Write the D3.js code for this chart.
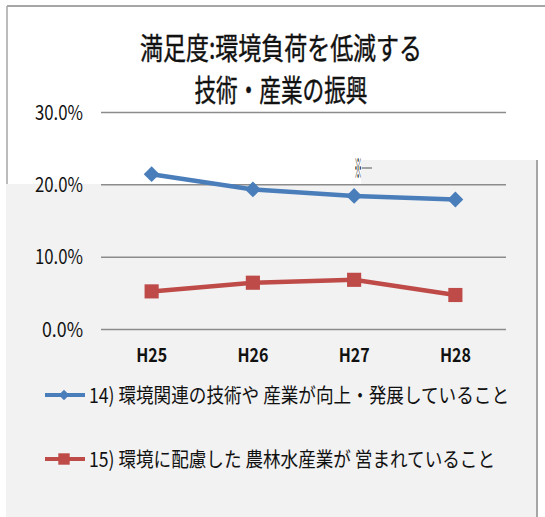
<!DOCTYPE html>
<html>
<head>
<meta charset="utf-8">
<script src="https://cdn.jsdelivr.net/npm/d3@7"></script>
<style>
body { margin: 0; background: #fff; }
svg { display: block; }
</style>
</head>
<body>
<div id="chart"></div>
<script>
var width = 545,
height = 517;

// data
var years = ["H25", "H26", "H27", "H28"];
var tech = [0.214, 0.193, 0.184, 0.179];
var farm = [0.052, 0.064, 0.068, 0.047];
var yTicks = [0, 0.1, 0.2, 0.3];
var titleLines = ["満足度:環境負荷を低減する", "技術・産業の振興"];
var seriesNames = ["14) 環境関連の技術や 産業が向上・発展していること", "15) 環境に配慮した 農林水産業が 営まれていること"];

var blue = "#4a7ebb",
red = "#be4b48",
jp = "'Noto Sans CJK JP', 'Noto Sans', sans-serif";

var svg = d3.select("#chart").append("svg")
.attr("width", width)
.attr("height", height);

// frame and grey panel
svg.append("line")
.attr("x1", 7).attr("x2", width).attr("y1", 6).attr("y2", 6)
.attr("stroke", "#a6a6a6").attr("stroke-width", 2);
svg.append("line")
.attr("x1", 7).attr("x2", 7).attr("y1", 6).attr("y2", 184)
.attr("stroke", "#a6a6a6").attr("stroke-width", 1.5);

svg.append("path")
.attr("d", "M6,184H361V160H537V517H6Z")
.attr("fill", "#f2f2f2");
svg.append("line")
.attr("x1", 537).attr("x2", 537).attr("y1", 160).attr("y2", height)
.attr("stroke", "#a6a6a6").attr("stroke-width", 2);

// title
var titleSizes = [[281, 59, 282], [281, 101, 173]];
svg.selectAll(".title").data(titleLines).enter().append("text")
.attr("class", "title")
.attr("x", function(d, i) { return titleSizes[i][0]; })
.attr("y", function(d, i) { return titleSizes[i][1]; })
.attr("text-anchor", "middle")
.attr("textLength", function(d, i) { return titleSizes[i][2]; })
.attr("lengthAdjust", "spacingAndGlyphs")
.style("font-family", jp)
.style("font-size", "30px")
.attr("fill", "#111")
.attr("stroke", "#111")
.attr("stroke-width", 0.4)
.text(function(d) { return d; });

// scales
var x = d3.scaleBand().domain(years).range([101, 506]);
var y = d3.scaleLinear().domain([0, 0.3]).range([329, 112]);

// y axis with gridlines
var yAxis = svg.append("g")
.attr("transform", "translate(101,0)")
.call(d3.axisLeft(y).tickValues(yTicks).tickFormat(d3.format(".1%")).tickSize(-405).tickPadding(18));
yAxis.select(".domain").remove();
yAxis.selectAll(".tick line").attr("stroke", "#8c8c8c").attr("stroke-width", 1.5);
yAxis.selectAll(".tick text")
.attr("textLength", function(d) { return d >= 0.1 ? 48 : 41; })
.attr("lengthAdjust", "spacingAndGlyphs")
.attr("dy", "0.36em")
.style("font-family", jp)
.style("font-size", "20px")
.attr("fill", "#111");

// x axis labels
var xAxis = svg.append("g")
.attr("transform", "translate(0,329)")
.call(d3.axisBottom(x).tickSize(0).tickPadding(20));
xAxis.select(".domain").remove();
xAxis.selectAll(".tick text")
.attr("textLength", 31)
.attr("lengthAdjust", "spacingAndGlyphs")
.style("font-family", jp)
.style("font-size", "19px")
.style("font-weight", "bold")
.attr("fill", "#111");

var line = d3.line()
.x(function(d, i) { return x(years[i]) + x.bandwidth() / 2; })
.y(function(d) { return y(d); });

function drawSeries(values, color, shape, size, rot) {
	svg.append("path")
	.datum(values)
	.attr("d", line)
	.attr("fill", "none")
	.attr("stroke", color)
	.attr("stroke-width", 4.5);

	svg.selectAll(null).data(values).enter().append("path")
	.attr("d", d3.symbol(shape, size))
	.attr("transform", function(d, i) {
		return "translate(" + (x(years[i]) + x.bandwidth() / 2) + "," + y(d) + ") rotate(" + rot + ")";
	})
	.attr("fill", color);
}

drawSeries(farm, red, d3.symbolSquare, 200, 0);
drawSeries(tech, blue, d3.symbolSquare, 125, 45);

// ※ mark near H27
svg.append("text")
.attr("transform", "translate(358,178) scale(0.55,1.9)")
.attr("text-anchor", "middle")
.style("font-family", jp)
.style("font-size", "14px")
.attr("fill", "#222")
.text("※");
svg.append("line")
.attr("x1", 362).attr("x2", 372).attr("y1", 168).attr("y2", 168)
.attr("stroke", "#555").attr("stroke-width", 1);

// legend
var legendInfo = [[395, blue, d3.symbolSquare, 55, 45, 420], [459, red, d3.symbolSquare, 130, 0, 406]];
var legend = svg.selectAll(".legend").data(seriesNames).enter().append("g")
.attr("class", "legend")
.attr("transform", function(d, i) { return "translate(0," + legendInfo[i][0] + ")"; });

legend.append("line")
.attr("x1", 45).attr("x2", 85)
.attr("stroke", function(d, i) { return legendInfo[i][1]; })
.attr("stroke-width", 4);
legend.append("path")
.attr("d", function(d, i) { return d3.symbol(legendInfo[i][2], legendInfo[i][3])(); })
.attr("transform", function(d, i) { return "translate(64,0) rotate(" + legendInfo[i][4] + ")"; })
.attr("fill", function(d, i) { return legendInfo[i][1]; });
legend.append("text")
.attr("transform", "translate(89,8) scale(1,1.15)")
.attr("textLength", function(d, i) { return legendInfo[i][5]; })
.attr("lengthAdjust", "spacingAndGlyphs")
.style("font-family", jp)
.style("font-size", "18px")
.attr("fill", "#111")
.text(function(d) { return d; });
</script>
</body>
</html>
